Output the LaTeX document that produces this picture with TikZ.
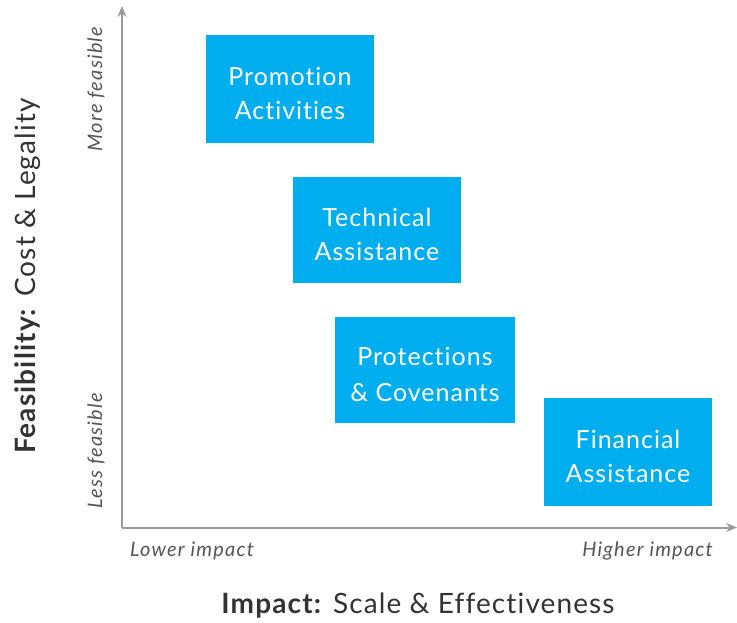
\documentclass[tikz,border=0pt]{standalone}
\usepackage{fontspec}
\setmainfont{Lato}[Ligatures=NoCommon]
\newfontfamily\boxfont{Lato}[Ligatures=NoCommon,LetterSpace=4]
\newfontfamily\endfont{Lato}[Ligatures=NoCommon,LetterSpace=6]
\newfontfamily\titlefont{Lato}[Ligatures=NoCommon,LetterSpace=4]
\usetikzlibrary{arrows.meta}
\definecolor{boxcyan}{HTML}{00ADEF}
\definecolor{axisgray}{HTML}{9A9A9A}
\definecolor{txtdark}{HTML}{333333}
\definecolor{txtgray}{HTML}{555555}
\begin{document}
\begin{tikzpicture}[x=1pt,y=-1pt,
  catbox/.style={fill=boxcyan,draw=none,inner sep=0pt},
  boxtext/.style={text=white,align=center,inner sep=0pt,yshift=-4pt,
    font=\boxfont\fontsize{25}{34}\selectfont},
  axisline/.style={draw=axisgray,line width=2pt,-{Stealth[length=11pt,width=9pt]}},
  endlabel/.style={text=txtgray,font=\endfont\fontsize{20}{22}\selectfont\itshape,inner sep=0pt},
  axtitle/.style={text=txtdark,font=\titlefont\fontsize{28}{30}\selectfont,inner sep=0pt}]
\useasboundingbox (0,0) rectangle (737,623);
\coordinate (origin) at (122,527.5);
\coordinate (ytip) at (122,6);
\coordinate (xtip) at (737,527.5);
\draw[axisline] (origin) -- (ytip);
\draw[axisline] (origin) -- (xtip);
\node[catbox,minimum width=168pt,minimum height=108pt,
  label={[boxtext]center:Promotion\\Activities}] (promo) at (290,89) {};
\node[catbox,minimum width=168pt,minimum height=106pt,
  label={[boxtext]center:Technical\\Assistance}] (tech) at (377,230) {};
\node[catbox,minimum width=180pt,minimum height=106pt,
  label={[boxtext,font=\boxfont\fontsize{25}{36}\selectfont]center:Protections\\\& Covenants}] (prot) at (425,370) {};
\node[catbox,minimum width=168pt,minimum height=108pt,
  label={[boxtext]center:Financial\\Assistance}] (fin) at (628,452) {};
\node[endlabel,rotate=90] (more) at (96,89) {More feasible};
\node[endlabel,rotate=90] (less) at (96,451) {Less feasible};
\node[endlabel,anchor=west] (lower) at (130,551) {Lower impact};
\node[endlabel,anchor=east] (higher) at (713,551) {Higher impact};
\node[axtitle] (xtitle) at (418,606) {\textbf{Impact:} Scale \& Effectiveness};
\node[axtitle,rotate=90] (ytitle) at (28,276) {\textbf{Feasibility:} Cost \& Legality};
\end{tikzpicture}
\end{document}
